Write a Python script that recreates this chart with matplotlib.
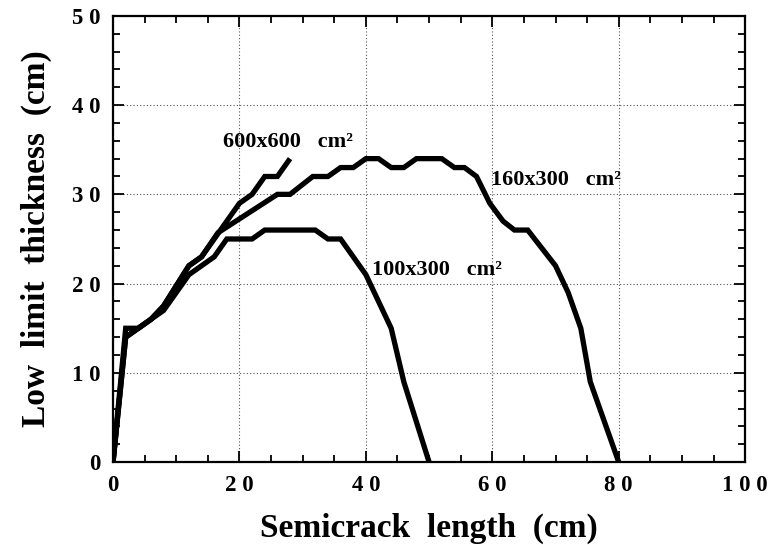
#!/usr/bin/env python3
# -*- coding: utf-8 -*-
"""
Low limit thickness vs. semicrack length for three plate sizes.
"""
import matplotlib
matplotlib.use("Agg")
import matplotlib.pyplot as plt
from matplotlib.ticker import MultipleLocator

# 600x600 cm^2 plate
x_600 = [0, 2, 4, 6, 8, 12, 14, 20, 22, 24, 26, 28]
y_600 = [0, 15, 15, 16, 17.5, 22, 23, 29, 30, 32, 32, 34]

# 160x300 cm^2 plate
x_160 = [0, 2, 6, 8, 12, 14, 16.6, 26, 28, 31.6, 34, 36, 38, 40, 42, 44, 46,
         48, 52, 54, 55.6, 57.5, 59.6, 61.7, 63.5, 65.6, 70, 72, 74, 75.5, 80]
y_160 = [0, 14, 16, 17.5, 22, 23, 25.7, 30, 30, 32, 32, 33, 33, 34, 34, 33, 33,
         34, 34, 33, 33, 32, 29, 27, 26, 26, 22, 19, 15, 9, 0]

# 100x300 cm^2 plate
x_100 = [0, 2, 6, 8, 12, 16, 18, 22, 24, 32, 34, 36, 40, 44, 46, 50]
y_100 = [0, 14, 16, 17, 21, 23, 25, 25, 26, 26, 25, 25, 21, 15, 9, 0]

XTICKS = [0, 20, 40, 60, 80, 100]
XTICK_LABELS = ["0", "2 0", "4 0", "6 0", "8 0", "1 0 0"]
YTICKS = [0, 10, 20, 30, 40, 50]
YTICK_LABELS = ["0", "1 0", "2 0", "3 0", "4 0", "5 0"]

FONT = "Liberation Serif"

fig = plt.figure(figsize=(7.69, 5.45), dpi=100)
ax = fig.add_axes([0.147, 0.152, 0.822, 0.819])

for xs, ys in ((x_100, y_100), (x_160, y_160), (x_600, y_600)):
    ax.plot(xs, ys, color="black", lw=3.8, solid_joinstyle="miter",
            solid_capstyle="butt")

ax.set_xlim(0, 100)
ax.set_ylim(0, 50)
ax.set_xticks(XTICKS)
ax.set_xticklabels(XTICK_LABELS)
ax.set_yticks(YTICKS)
ax.set_yticklabels(YTICK_LABELS)
ax.xaxis.set_minor_locator(MultipleLocator(5))
ax.yaxis.set_minor_locator(MultipleLocator(2))

ax.tick_params(which="both", direction="in", top=True, right=True,
               width=1.3, color="black")
ax.tick_params(which="major", length=8, pad=9)
ax.tick_params(which="minor", length=5)
for lab in ax.get_xticklabels() + ax.get_yticklabels():
    lab.set_fontfamily(FONT)
    lab.set_fontweight("bold")
    lab.set_fontsize(16.5)

for sp in ax.spines.values():
    sp.set_linewidth(1.6)

ax.grid(True, which="major", color="#555555", ls=(0, (1, 2)), lw=0.8)

lab_kw = dict(fontfamily=FONT, fontweight="bold", fontsize=16,
              va="baseline", ha="left")
ax.text(17.4, 35.3, "600x600   cm²", **lab_kw)
ax.text(59.8, 31.0, "160x300   cm²", **lab_kw)
ax.text(40.9, 21.0, "100x300   cm²", **lab_kw)

ax.set_xlabel("Semicrack  length  (cm)", fontfamily=FONT, fontweight="bold",
              fontsize=24, labelpad=12)
ax.set_ylabel("Low  limit  thickness  (cm)", fontfamily=FONT,
              fontweight="bold", fontsize=24, labelpad=14)

fig.savefig("out.png", dpi=100)
